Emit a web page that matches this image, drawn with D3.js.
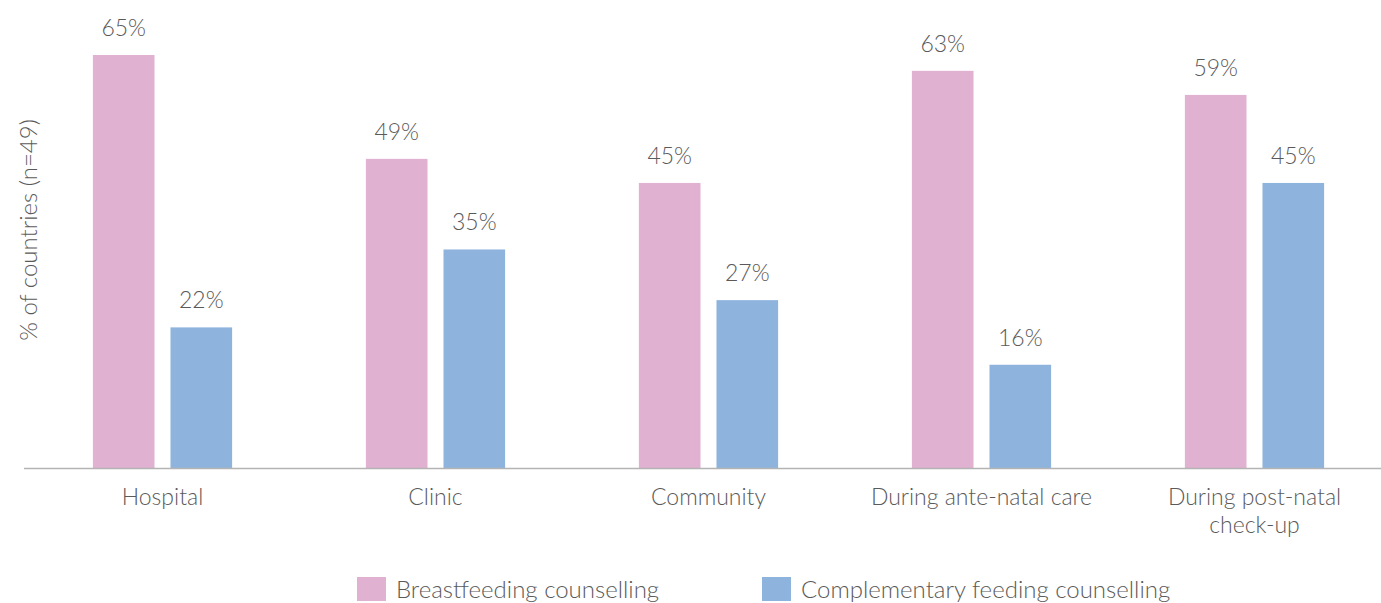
<!DOCTYPE html>
<html>
<head>
<meta charset="utf-8">
<script src="https://cdn.jsdelivr.net/npm/d3@7"></script>
<style>
  body { margin: 0; background: #fff; }
  text { font-family: Lato, "Open Sans", sans-serif; font-weight: 300; fill: #5a5a5a; }
</style>
</head>
<body>
<div id="chart-area"></div>
<script>
// data (bar heights estimated, labels rounded)
var categories = [["Hospital"], ["Clinic"], ["Community"], ["During ante-natal care"], ["During post-natal", "check-up"]];
var seriesNames = ["Breastfeeding counselling", "Complementary feeding counselling"];
var breastfeeding = [65.2, 48.8, 45.0, 62.7, 58.9];
var complementary = [22.2, 34.5, 26.5, 16.3, 45.0];
var colors = ["#e0b1d0", "#8eb4de"];

var width = 1381, height = 603;
var baseY = 468;

var svg = d3.select("#chart-area").append("svg")
    .attr("width", width)
    .attr("height", height);

var keys = categories.map(function(c){ return c.join(" "); });

var x0 = d3.scaleBand()
    .domain(keys)
    .range([26, 1391])
    .paddingInner(0.49)
    .paddingOuter(0.245);

var x1 = d3.scaleBand()
    .domain(seriesNames)
    .range([0, x0.bandwidth()])
    .paddingInner(0.206);

var y = d3.scaleLinear()
    .domain([0, 65.2])
    .range([baseY, 55]);

var rows = keys.map(function(k, i){
    return {key: k, values: [breastfeeding[i], complementary[i]]};
});

var groups = svg.selectAll("g.grp").data(rows).enter()
    .append("g")
    .attr("class", "grp")
    .attr("transform", function(d){ return "translate(" + x0(d.key) + ",0)"; });

groups.selectAll("rect").data(function(d){ return d.values; }).enter()
    .append("rect")
    .attr("x", function(d, i){ return x1(seriesNames[i]); })
    .attr("y", function(d){ return y(d); })
    .attr("width", x1.bandwidth())
    .attr("height", function(d){ return baseY - y(d); })
    .attr("fill", function(d, i){ return colors[i]; });

// value labels above the bars
groups.selectAll("text.val").data(function(d){ return d.values; }).enter()
    .append("text")
    .attr("class", "val")
    .attr("x", function(d, i){ return x1(seriesNames[i]) + x1.bandwidth() / 2; })
    .attr("y", function(d){ return y(d) - 19; })
    .attr("text-anchor", "middle")
    .attr("font-size", 23)
    .text(function(d){ return Math.round(d) + "%"; });

// baseline
svg.append("line")
    .attr("x1", 24).attr("x2", width)
    .attr("y1", baseY + 0.5).attr("y2", baseY + 0.5)
    .attr("stroke", "#b4b4b4")
    .attr("stroke-width", 1.5);

// category labels
var cat = svg.selectAll("text.cat").data(categories).enter()
    .append("text")
    .attr("class", "cat")
    .attr("text-anchor", "middle")
    .attr("font-size", 23)
    .attr("transform", function(d, i){
        return "translate(" + (x0(keys[i]) + x0.bandwidth() / 2) + ",505)";
    });
cat.selectAll("tspan").data(function(d){ return d; }).enter()
    .append("tspan")
    .attr("x", 0)
    .attr("y", function(d, i){ return i * 28; })
    .text(function(d){ return d; });

// y axis title
svg.append("text")
    .attr("transform", "translate(37,230) rotate(-90)")
    .attr("text-anchor", "middle")
    .attr("font-size", 24)
    .text("% of countries (n=49)");

// legend
var legendX = [357, 762];
var legend = svg.selectAll("g.leg").data(seriesNames).enter()
    .append("g")
    .attr("class", "leg")
    .attr("transform", function(d, i){ return "translate(" + legendX[i] + ",577)"; });
legend.append("rect")
    .attr("width", 29)
    .attr("height", 24)
    .attr("fill", function(d, i){ return colors[i]; });
legend.append("text")
    .attr("x", 39)
    .attr("y", 21)
    .attr("font-size", 24)
    .text(function(d){ return d; });
</script>
</body>
</html>
